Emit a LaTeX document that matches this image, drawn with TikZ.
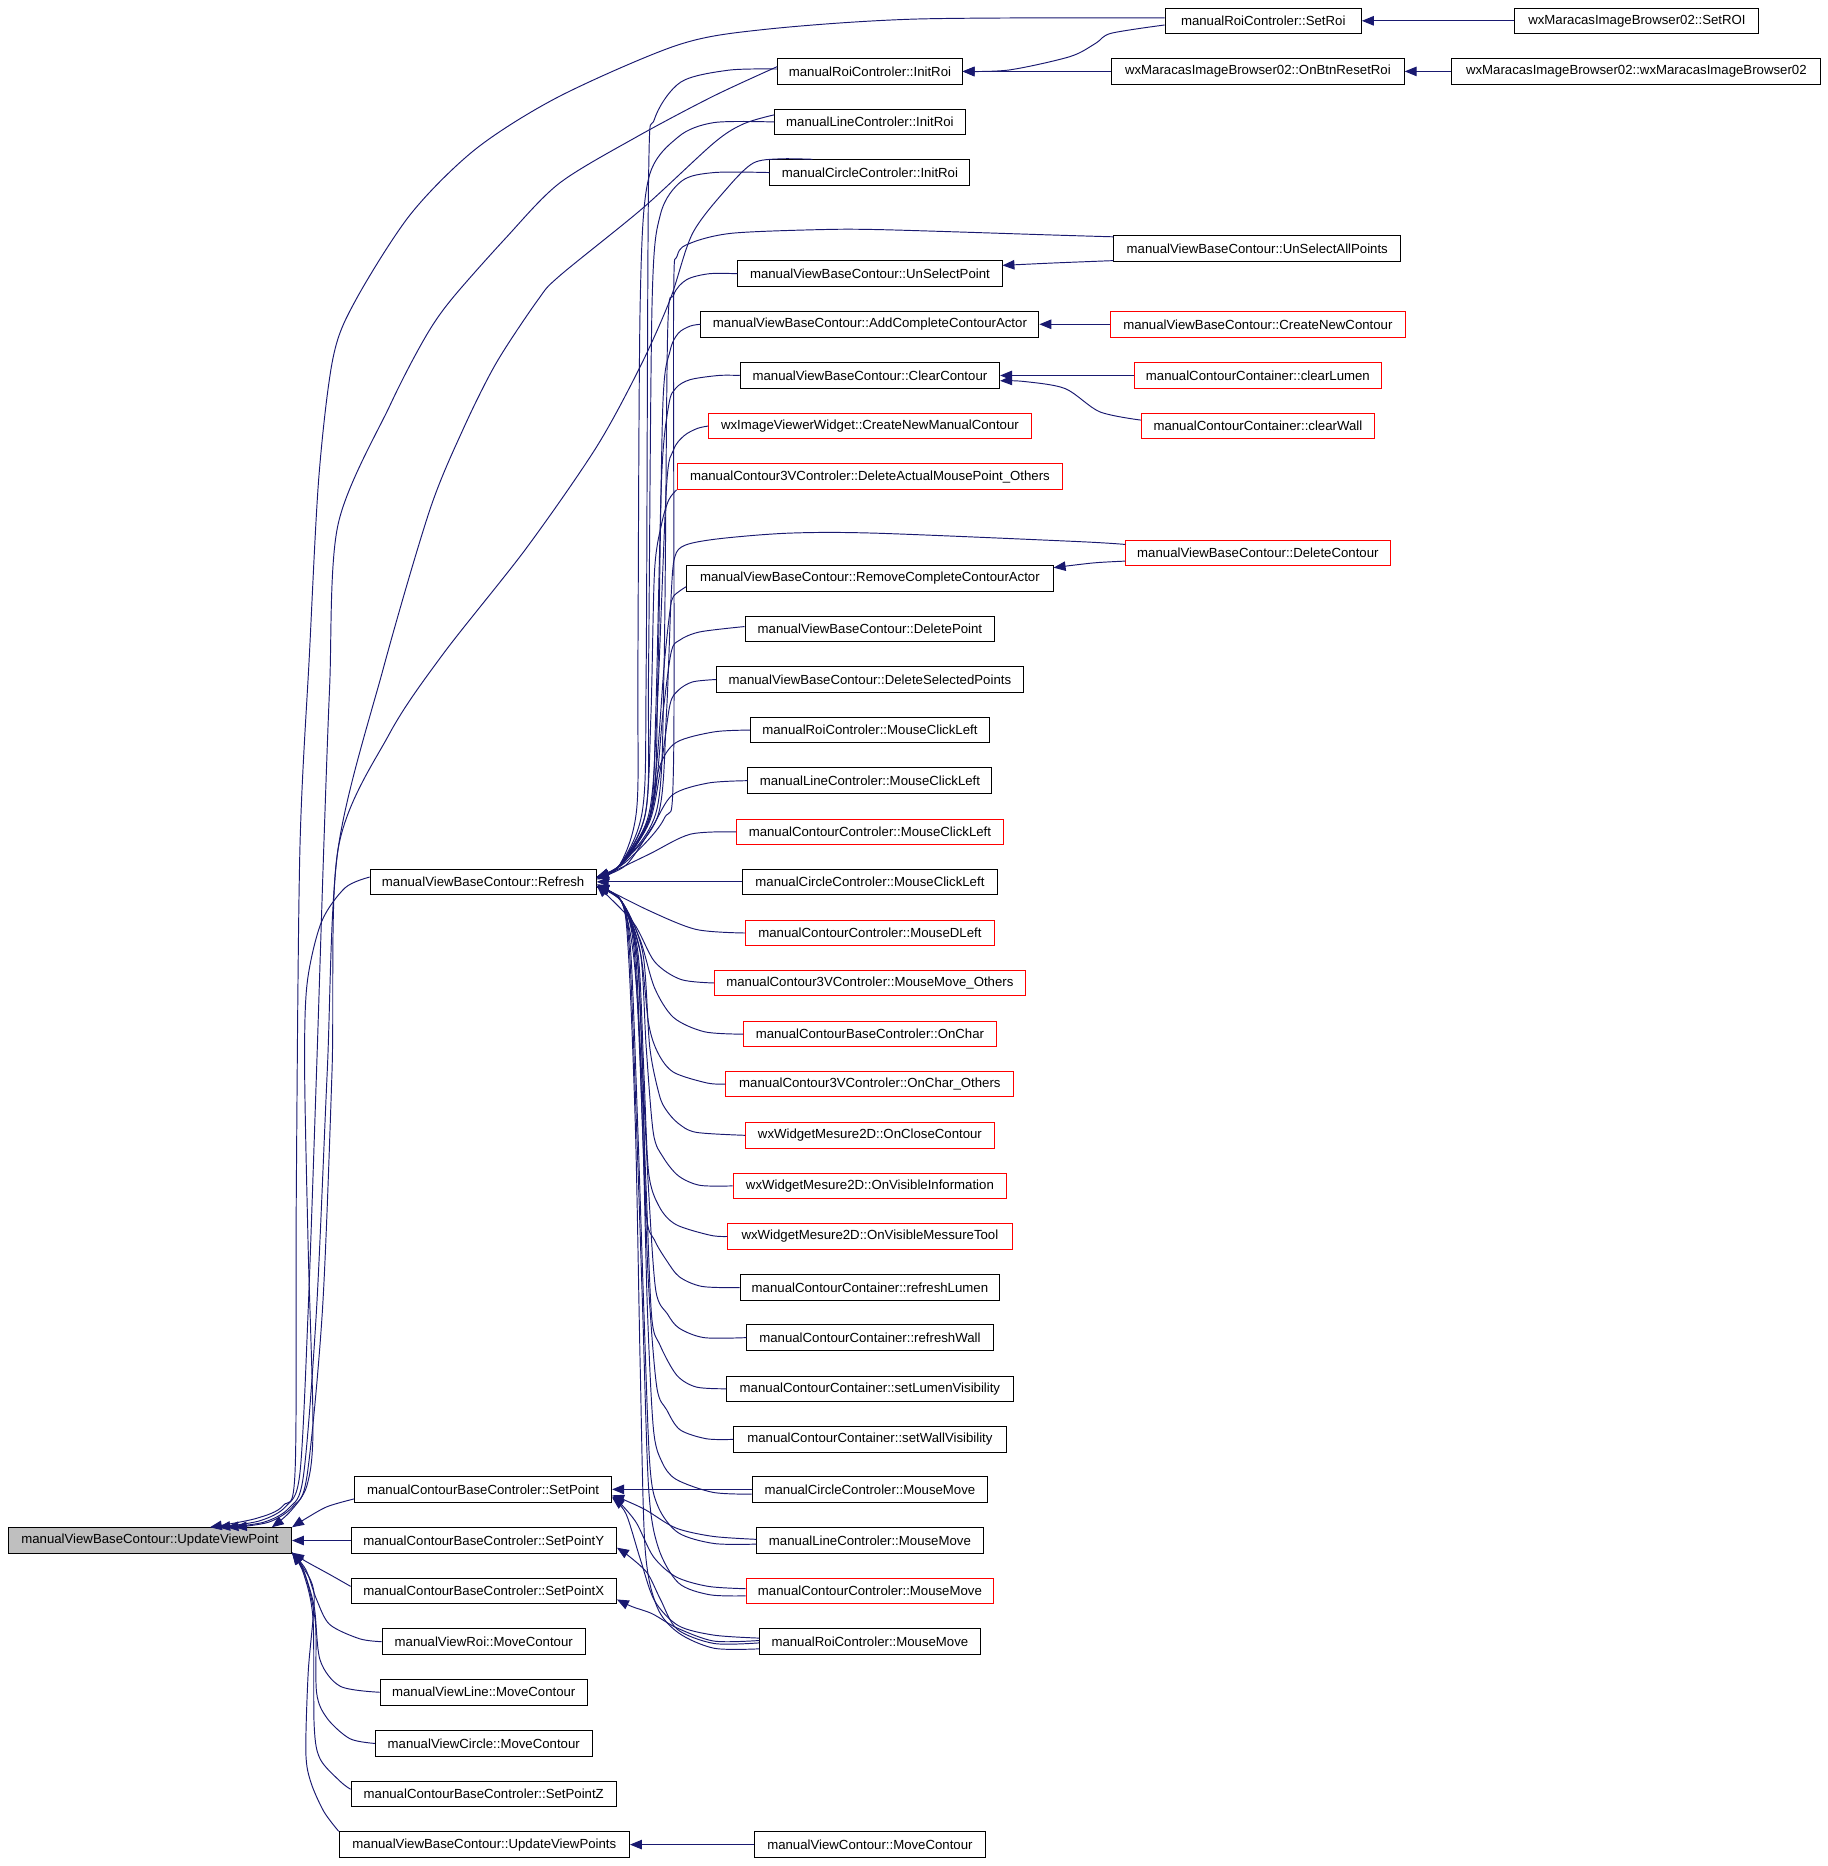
\documentclass[tikz,border=0pt]{standalone}
\usepackage{fontspec}
\setmainfont{Liberation Sans}
\usetikzlibrary{arrows.meta,calc}
\definecolor{edgecol}{HTML}{191970}
\definecolor{boxgray}{HTML}{BFBFBF}
\tikzset{
  box/.style={draw=black, line width=0.8pt, minimum height=21.5pt, inner sep=0pt,
              font=\fontsize{11.1pt}{13pt}\selectfont, text=black},
  redbox/.style={box, draw=red},
  graybox/.style={box, fill=boxgray},
  edge/.style={draw=edgecol, line width=0.8pt, line join=round,
               -{Triangle[length=10pt,width=8pt]}},
}
\begin{document}
\begin{tikzpicture}[x=1pt,y=-1pt]
\path[fill=white] (0,0) rectangle (1536,1568);
\useasboundingbox (0,0) rectangle (1536,1568);

% ---------- column 0 ----------
\node[graybox, minimum width=238pt] (uvp) at (126,1294.5) {manualViewBaseContour::UpdateViewPoint};
% ---------- column 1 ----------
\node[box, minimum width=190pt] (refresh) at (406,741) {manualViewBaseContour::Refresh};
\node[box, minimum width=216pt] (setpoint) at (406,1251.5) {manualContourBaseControler::SetPoint};
\node[box, minimum width=223pt] (setpointy) at (406.5,1294.5) {manualContourBaseControler::SetPointY};
\node[box, minimum width=223pt] (setpointx) at (406.5,1337) {manualContourBaseControler::SetPointX};
\node[box, minimum width=171pt] (vroi) at (406.5,1379.5) {manualViewRoi::MoveContour};
\node[box, minimum width=174pt] (vline) at (406.5,1422) {manualViewLine::MoveContour};
\node[box, minimum width=182pt] (vcircle) at (406.5,1465) {manualViewCircle::MoveContour};
\node[box, minimum width=223pt] (setpointz) at (406.5,1507.5) {manualContourBaseControler::SetPointZ};
\node[box, minimum width=244pt] (uvps) at (407,1550) {manualViewBaseContour::UpdateViewPoints};
% ---------- column 2 ----------
\node[box, minimum width=155pt] (roiinit) at (731,60) {manualRoiControler::InitRoi};
\node[box, minimum width=160pt] (lineinit) at (731,102.5) {manualLineControler::InitRoi};
\node[box, minimum width=168pt] (circleinit) at (731,145) {manualCircleControler::InitRoi};
\node[box, minimum width=222pt] (unselpt) at (731,230) {manualViewBaseContour::UnSelectPoint};
\node[box, minimum width=284pt] (addcca) at (731,272.5) {manualViewBaseContour::AddCompleteContourActor};
\node[box, minimum width=218pt] (clearc) at (731,315.5) {manualViewBaseContour::ClearContour};
\node[redbox, minimum width=271pt] (cnmc) at (731,358) {wxImageViewerWidget::CreateNewManualContour};
\node[redbox, minimum width=324pt] (dampo) at (731,400.5) {manualContour3VControler::DeleteActualMousePoint\_Others};
\node[box, minimum width=308pt] (rcca) at (731,486) {manualViewBaseContour::RemoveCompleteContourActor};
\node[box, minimum width=210pt] (delpt) at (731,528.5) {manualViewBaseContour::DeletePoint};
\node[box, minimum width=258pt] (delsel) at (731,571) {manualViewBaseContour::DeleteSelectedPoints};
\node[box, minimum width=201pt] (roiclick) at (731,613.5) {manualRoiControler::MouseClickLeft};
\node[box, minimum width=205pt] (lineclick) at (731,656) {manualLineControler::MouseClickLeft};
\node[redbox, minimum width=224pt] (contclick) at (731,699) {manualContourControler::MouseClickLeft};
\node[box, minimum width=214pt] (circclick) at (731,741) {manualCircleControler::MouseClickLeft};
\node[redbox, minimum width=209pt] (dleft) at (731,784) {manualContourControler::MouseDLeft};
\node[redbox, minimum width=261pt] (mmo) at (731,826) {manualContour3VControler::MouseMove\_Others};
\node[redbox, minimum width=212pt] (onchar) at (731,869) {manualContourBaseControler::OnChar};
\node[redbox, minimum width=242pt] (oncharo) at (731,911) {manualContour3VControler::OnChar\_Others};
\node[redbox, minimum width=209pt] (onclose) at (731,954) {wxWidgetMesure2D::OnCloseContour};
\node[redbox, minimum width=230pt] (onvisinfo) at (731,996.5) {wxWidgetMesure2D::OnVisibleInformation};
\node[redbox, minimum width=239pt] (onvismt) at (731,1039) {wxWidgetMesure2D::OnVisibleMessureTool};
\node[box, minimum width=218pt] (reflumen) at (731,1082) {manualContourContainer::refreshLumen};
\node[box, minimum width=207pt] (refwall) at (731,1124) {manualContourContainer::refreshWall};
\node[box, minimum width=241pt] (setlumvis) at (731,1167) {manualContourContainer::setLumenVisibility};
\node[box, minimum width=229pt] (setwallvis) at (731,1209.5) {manualContourContainer::setWallVisibility};
\node[box, minimum width=198pt] (circmm) at (731,1251.5) {manualCircleControler::MouseMove};
\node[box, minimum width=190pt] (linemm) at (731,1294.5) {manualLineControler::MouseMove};
\node[redbox, minimum width=208pt] (contmm) at (731,1337) {manualContourControler::MouseMove};
\node[box, minimum width=185pt] (roimm) at (731,1379.5) {manualRoiControler::MouseMove};
\node[box, minimum width=194pt] (vcmove) at (731,1550) {manualViewContour::MoveContour};
% ---------- column 3 ----------
\node[box, minimum width=165pt] (setroi) at (1061.5,17.5) {manualRoiControler::SetRoi};
\node[box, minimum width=246pt] (onbtn) at (1057,60) {wxMaracasImageBrowser02::OnBtnResetRoi};
\node[box, minimum width=241pt] (unselall) at (1056.5,209) {manualViewBaseContour::UnSelectAllPoints};
\node[redbox, minimum width=248pt] (createnew) at (1057,272.5) {manualViewBaseContour::CreateNewContour};
\node[redbox, minimum width=208pt] (clearlumen) at (1057,315.5) {manualContourContainer::clearLumen};
\node[redbox, minimum width=196pt] (clearwall) at (1057,358) {manualContourContainer::clearWall};
\node[redbox, minimum width=222pt] (delcont) at (1057,464.5) {manualViewBaseContour::DeleteContour};
% ---------- column 4 ----------
\node[box, minimum width=205pt] (setROI) at (1375.5,17.5) {wxMaracasImageBrowser02::SetROI};
\node[box, minimum width=310pt] (wxmib) at (1375,60) {wxMaracasImageBrowser02::wxMaracasImageBrowser02};

% ---------- right-hand edges ----------
\draw[edge] (setROI.west) -- (setroi.east);
\draw[edge] (wxmib.west) -- (onbtn.east);
\draw[edge] (onbtn.west) -- (roiinit.east);
\draw[edge] plot[smooth] coordinates {([yshift=-3.5pt]setroi.west) (933.6,28) (920.7,36.4) (899,47.6) (848,58.8) (roiinit.east)};
\draw[edge] plot[smooth] coordinates {([yshift=-10pt]unselall.west) (885,221) ([yshift=7pt]unselpt.east)};
\draw[edge] (createnew.west) -- (addcca.east);
\draw[edge] (clearlumen.west) -- (clearc.east);
\draw[edge] plot[smooth] coordinates {([yshift=5pt]clearwall.west) (924,346) (895,326.5) (860,320.5) ([yshift=-4.5pt]clearc.east)};
\draw[edge] plot[smooth] coordinates {([yshift=-7pt]delcont.west) (919,473) ([yshift=9pt]rcca.east)};
\draw[edge] (vcmove.west) -- (uvps.east);

% ---------- long edges to UpdateViewPoint ----------
\draw[edge] plot[smooth] coordinates {([yshift=2.5pt]setroi.west) (770,16) (640,25) (569,38) (470,81) (400,125) (345,180) (299,252) (280,300) (268,400) (260,550) (252,714) (249,1000) (248,1235) (238,1265) (215,1276) ([xshift=-69pt]uvp.north east)};
\draw[edge] plot[smooth] coordinates {([yshift=4pt]roiinit.west) (599,81) (535,115) (470,154) (425,200) (379,252) (357,284) (328,340) (284,441) (277,577) (272,714) (266,900) (259,1100) (252,1238) (240,1266) (218,1278) ([xshift=-62pt]uvp.north east)};
\draw[edge] plot[smooth] coordinates {([yshift=6pt]lineinit.west) (625,104) (600,120) (540,175) (470,232) (452,252) (417,305) (389,361) (361,429) (322,562) (284,714) (275,900) (266,1100) (255,1240) (243,1267) (222,1279) ([xshift=-55pt]uvp.north east)};
\draw[edge] plot[smooth] coordinates {([xshift=36pt]circleinit.north west) (655,133.5) (633,137) (612,157) (582,196) (563,252) (538,308) (501,376) (442,461) (372,550) (327,617) (284,714) (279,900) (271,1100) (258,1240) (246,1266) (226,1279) ([xshift=-48pt]uvp.north east)};
\draw[edge] plot[smooth] coordinates {([yshift=4pt]refresh.west) (290,746) (270,775) (258,827) (256,900) (259,1050) (263,1200) (258,1248) (244,1270) ([xshift=-17pt]uvp.north east)};
\draw[edge] plot[smooth] coordinates {([yshift=-8pt]setpoint.west) (275,1266) (257,1276) (uvp.north east)};
\draw[edge] (setpointy.west) -- (uvp.east);
\draw[edge] plot[smooth] coordinates {([yshift=4pt]setpointx.west) (277,1323) (257,1312) ([yshift=1pt]uvp.south east)};
\draw[edge] plot[smooth] coordinates {(vroi.west) (302,1377) (277,1365) (266,1344) (257,1319) ([yshift=1pt]uvp.south east)};
\draw[edge] plot[smooth] coordinates {(vline.west) (286,1417) (269,1395) (264,1350) (255,1320) ([yshift=1pt]uvp.south east)};
\draw[edge] plot[smooth] coordinates {(vcircle.west) (294,1461) (275,1444) (266,1422) (265,1363) (256,1322) ([yshift=1pt]uvp.south east)};
\draw[edge] plot[smooth] coordinates {([yshift=4pt]setpointz.west) (286,1497) (269,1478) (264,1450) (263,1360) (255,1322) ([yshift=1pt]uvp.south east)};
\draw[edge] plot[smooth] coordinates {(uvps.north west) (272,1522) (261,1497) (257,1472) (259,1405) (264,1340) (254,1316) ([yshift=1pt]uvp.south east)};

% ---------- edges to Refresh from above ----------
\draw[edge] plot[smooth] coordinates {([yshift=2pt]roiinit.west) (612,59) (572,69) (550,100) (545,150) (543,560) (540,680) (520,728) ([yshift=4pt]refresh.east)};
\draw[edge] plot[smooth] coordinates {(lineinit.west) (600,103) (570,115) (545,150) (538,252) (536,560) (535,680) (520,728) ([yshift=4pt]refresh.east)};
\draw[edge] plot[smooth] coordinates {(circleinit.west) (600,145) (573,152) (555,180) (548,252) (545,560) (543,680) (520,728) ([yshift=4pt]refresh.east)};
\draw[edge] plot[smooth] coordinates {([yshift=10pt]unselall.west) (885,197.5) (741,193) (687,193) (615,196) (581,204) (569,215) (566,260) (566,640) (558,688) (525,725) ([yshift=4pt]refresh.east)};
\draw[edge] plot[smooth] coordinates {(unselpt.west) (596,230) (577,235) (566,248) (561,280) (558,560) (552,680) (520,728) ([yshift=4pt]refresh.east)};
\draw[edge] plot[smooth] coordinates {(addcca.west) (580,274) (570,280) (563,295) (557,340) (553,560) (548,680) (520,728) ([yshift=4pt]refresh.east)};
\draw[edge] plot[smooth] coordinates {(clearc.west) (604,315.5) (580,319) (568,326) (562,340) (556,400) (551,600) (546,685) (520,728) ([yshift=4pt]refresh.east)};
\draw[edge] plot[smooth] coordinates {(cnmc.west) (586,360) (575,366) (566,378) (560,410) (552,600) (545,685) (520,728) ([yshift=4pt]refresh.east)};
\draw[edge] plot[smooth] coordinates {(dampo.south west) (562,420) (556,440) (550,480) (547,600) (542,685) (520,728) ([yshift=4pt]refresh.east)};
\draw[edge] plot[smooth] coordinates {([yshift=7pt]delcont.west) (904,455) (735,448) (663,448) (605,452.6) (576,458) (567,468) (564,500) (560,600) (553,685) (520,728) ([yshift=4pt]refresh.east)};
\draw[edge] plot[smooth] coordinates {([yshift=-7pt]rcca.west) (566,501) (563,513) (558,560) (552,640) (545,690) (520,728) ([yshift=4pt]refresh.east)};
\draw[edge] plot[smooth] coordinates {([yshift=2pt]delpt.west) (588,531) (571,538) (564,548) (557,600) (548,680) (522,726) ([yshift=4pt]refresh.east)};
\draw[edge] plot[smooth] coordinates {(delsel.west) (582,573) (570,580) (563,592) (556,640) (546,690) (522,726) ([yshift=4pt]refresh.east)};
\draw[edge] plot[smooth] coordinates {(roiclick.west) (600,615) (568,624) (554,645) (545,690) (524,725) ([yshift=4pt]refresh.east)};
\draw[edge] plot[smooth] coordinates {(lineclick.west) (595,658) (565,668) (548,695) (526,727) ([yshift=3pt]refresh.east)};
\draw[edge] plot[smooth] coordinates {(contclick.west) (580,701) (545,718) ([yshift=2pt]refresh.east)};
\draw[edge] (circclick.west) -- (refresh.east);
% ---------- edges to Refresh from below ----------
\draw[edge] plot[smooth] coordinates {(dleft.west) (585,781) (545,765) ([yshift=-2pt]refresh.east)};
\draw[edge] plot[smooth] coordinates {(mmo.west) (572,823) (550,808) (532,775) ([yshift=-3pt]refresh.east)};
\draw[edge] plot[smooth] coordinates {(onchar.west) (592,867) (566,855) (550,830) (538,790) (522,757) ([yshift=-4pt]refresh.east)};
\draw[edge] plot[smooth] coordinates {(oncharo.west) (594,910) (566,901) (553,885) (545,860) (538,800) (522,757) ([yshift=-4pt]refresh.east)};
\draw[edge] plot[smooth] coordinates {(onclose.west) (585,951.5) (570,944) (560,933) (554,920) (546,880) (540,800) (522,757) ([yshift=-4pt]refresh.east)};
\draw[edge] plot[smooth] coordinates {(onvisinfo.west) (588,996) (570,988) (557,972) (549,952) (543,880) (538,800) (522,757) ([yshift=-4pt]refresh.east)};
\draw[edge] plot[smooth] coordinates {(onvismt.west) (597,1038) (568,1029) (554,1014) (545,985) (541,900) (536,800) (522,757) ([yshift=-4pt]refresh.east)};
\draw[edge] plot[smooth] coordinates {(reflumen.west) (590,1081) (571,1073) (560,1059) (550,1042) (543,1019) (540,900) (535,800) (522,757) ([yshift=-4pt]refresh.east)};
\draw[edge] plot[smooth] coordinates {(refwall.west) (591.6,1124) (570.6,1116) (560.8,1104) (551,1084) (545,1000) (540,900) (535,800) (522,757) ([yshift=-4pt]refresh.east)};
\draw[edge] plot[smooth] coordinates {(setlumvis.west) (585,1165.5) (568.6,1155.5) (554.6,1130.3) (547.6,1106.5) (543,1000) (538,880) (532,800) (522,757) ([yshift=-4pt]refresh.east)};
\draw[edge] plot[smooth] coordinates {(setwallvis.west) (593.7,1209) (571.4,1201.4) (560.2,1184.6) (551.8,1165) (545,1080) (540,950) (534,800) (522,757) ([yshift=-4pt]refresh.east)};
\draw[edge] plot[smooth] coordinates {([yshift=-4pt]circmm.west) (599,1254) (568,1243) (556,1228) (549,1200) (544,1100) (540,950) (533,800) (522,757) ([yshift=-4pt]refresh.east)};
\draw[edge] plot[smooth] coordinates {([yshift=-3pt]linemm.west) (600,1297) (570,1288) (553,1266) (546,1230) (541,1100) (536,950) (530,800) (522,757) ([yshift=-4pt]refresh.east)};
\draw[edge] plot[smooth] coordinates {([yshift=-4pt]contmm.west) (596,1340) (570,1330) (553,1300) (545,1250) (540,1100) (535,950) (529,800) (522,757) ([yshift=-4pt]refresh.east)};
\draw[edge] plot[smooth] coordinates {([yshift=-6pt]roimm.west) (600,1385) (570,1372) (552,1350) (542,1300) (538,1150) (534,950) (528,800) (522,757) ([yshift=-4pt]refresh.east)};

% ---------- edges to SetPoint / SetPointY / SetPointX ----------
\draw[edge] (circmm.west) -- (setpoint.east);
\draw[edge] plot[smooth] coordinates {([yshift=1pt]linemm.west) (599,1291) (568,1284) (543,1269) (526,1261) ([yshift=-5pt]setpoint.east)};
\draw[edge] plot[smooth] coordinates {([yshift=2pt]contmm.west) (595,1333) (568,1325) (549,1308) (535,1280) (522,1264) ([yshift=-6pt]setpoint.east)};
\draw[edge] plot[smooth] coordinates {([yshift=3pt]roimm.west) (600,1374) (570,1366) (550,1345) (538,1310) (526,1272) ([yshift=-7pt]setpoint.east)};
\draw[edge] plot[smooth] coordinates {([yshift=-1pt]roimm.west) (600,1381) (569,1369) (555,1344) (544,1322) (529,1308) ([yshift=-6pt]setpointy.east)};
\draw[edge] plot[smooth] coordinates {([yshift=1pt]roimm.west) (600,1379) (569,1368) (548,1356) (531,1350) ([yshift=-7pt]setpointx.east)};
\end{tikzpicture}
\end{document}
